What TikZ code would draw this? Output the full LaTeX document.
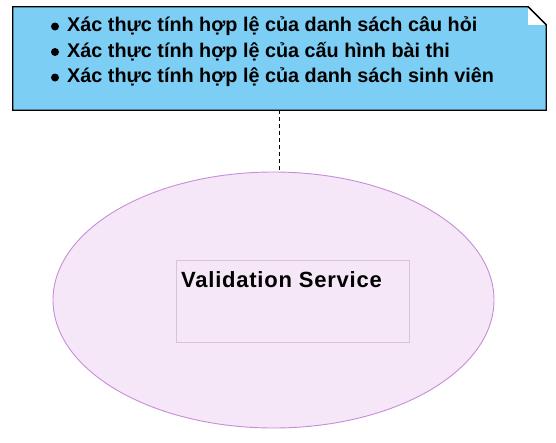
\documentclass[tikz,border=0pt]{standalone}
\usepackage{fontspec}
\setmainfont{Liberation Sans}
\usetikzlibrary{shapes.geometric,positioning}
\definecolor{noteblue}{HTML}{7DCEF4}
\definecolor{servicebg}{HTML}{F5E6F8}
\definecolor{serviceline}{HTML}{C68ED8}
\definecolor{boxline}{HTML}{D9C3D9}
\tikzset{
  itemtext/.style={anchor=base west, inner sep=0, font=\bfseries\fontsize{19.8}{22}\selectfont},
  titletext/.style={anchor=base west, inner sep=0, font=\bfseries\fontsize{22}{26}\selectfont\addfontfeature{LetterSpace=3.5}},
}

\begin{document}
\begin{tikzpicture}[x=1pt,y=-1pt]
\useasboundingbox (0,0) rectangle (556,442);
% note with folded corner
\node[minimum width=533pt, minimum height=103pt, inner sep=0] (note) at (279.5,58.5) {};
\draw [line width=1.3pt, fill=noteblue] (note.north west) -- ([xshift=-18pt]note.north east) -- ([yshift=-18pt]note.north east) -- (note.south east) -- (note.south west) -- cycle;
\fill [white] ([xshift=-18pt]note.north east) -- ++(0,18) -- ++(18,0) -- cycle;
\draw [line width=1.3pt] ([xshift=-18pt]note.north east) -- ([yshift=-18pt]note.north east);
\foreach \txt [count=\i] in {Xác thực tính hợp lệ của danh sách câu hỏi,Xác thực tính hợp lệ của cấu hình bài thi,Xác thực tính hợp lệ của danh sách sinh viên} {
    \fill (55,{26.5+25.5*(\i-1)}) circle (4);
    \node[itemtext] (item\i) at (67,{31.5+25.5*(\i-1)}) {\txt};
}
% service
\node[ellipse, draw=serviceline, line width=0.9pt, fill=servicebg, minimum width=441pt, minimum height=256pt, inner sep=0] (service) at (273.5,300) {};
\node[draw=boxline, minimum width=233pt, minimum height=82pt, inner sep=0] (box) at (292.5,301) {};
\node[titletext] (title) at (181,287) {Validation Service};
% link
\draw [dash pattern=on 4pt off 3pt, line width=1pt] (note.south) -- (note.south |- service.north);
\end{tikzpicture}
\end{document}
